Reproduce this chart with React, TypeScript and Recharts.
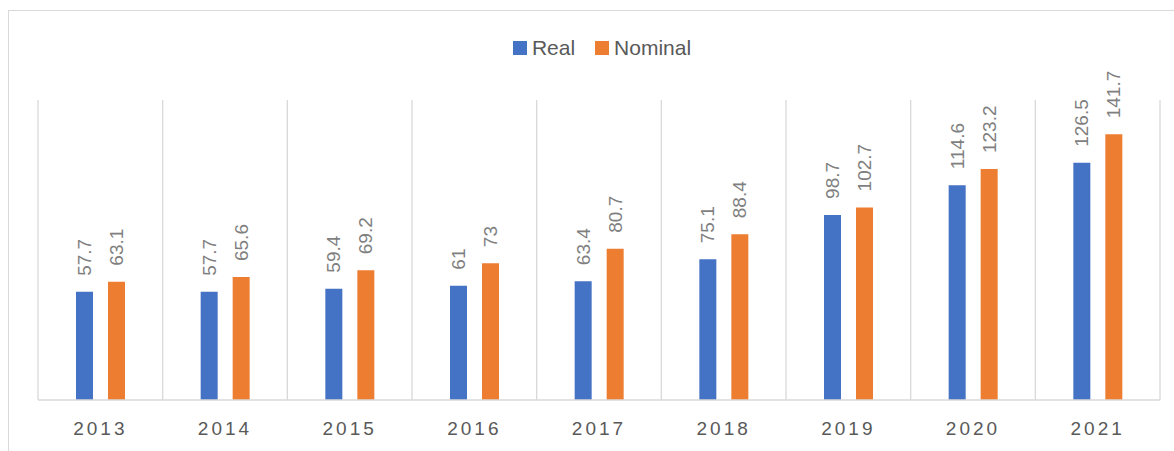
import React from "react";
import { Bar, BarChart, CartesianGrid, LabelList, XAxis, YAxis } from "recharts";

const years = ["2013", "2014", "2015", "2016", "2017", "2018", "2019", "2020", "2021"];
const real = [57.7, 57.7, 59.4, 61, 63.4, 75.1, 98.7, 114.6, 126.5];
const nominal = [63.1, 65.6, 69.2, 73, 80.7, 88.4, 102.7, 123.2, 141.7];
const seriesNames = ["Real", "Nominal"];

const BLUE = "#4472C4";
const ORANGE = "#ED7D31";
const FONT = "'Liberation Sans', Arial, sans-serif";

const data = years.map((year, i) => ({ year, real: real[i], nominal: nominal[i] }));

const ValueLabel = (props: any) => {
  const { x, y, width, value } = props;
  const cx = Number(x) + Number(width) / 2;
  const ty = Number(y) - 16;
  return (
    <text
      x={cx}
      y={ty}
      transform={`rotate(-90, ${cx}, ${ty})`}
      textAnchor="start"
      dominantBaseline="central"
      fill="#7f7f7f"
      fontSize={19}
      fontFamily={FONT}
    >
      {value}
    </text>
  );
};

// legend drawn as html so it doesn't push the plot area down
const LegendBox = () => (
  <div
    style={{
      position: "absolute",
      top: 25,
      left: 0,
      width: 1186,
      display: "flex",
      justifyContent: "center",
      alignItems: "center",
      gap: 20,
      fontFamily: FONT,
      fontSize: 21,
      color: "#595959"
    }}
  >
    {[
      { name: seriesNames[0], color: BLUE },
      { name: seriesNames[1], color: ORANGE }
    ].map((item) => (
      <span key={item.name} style={{ display: "flex", alignItems: "center", gap: 5 }}>
        <span style={{ width: 14, height: 14, backgroundColor: item.color, display: "inline-block" }} />
        {item.name}
      </span>
    ))}
  </div>
);

export default function App() {
  return (
    <div
      style={{
        position: "absolute",
        left: 8,
        top: 10,
        width: 1166,
        height: 441,
        border: "1px solid #d9d9d9",
        background: "#fff"
      }}
    >
      <BarChart
        width={1166}
        height={441}
        data={data}
        margin={{ top: 89, right: 15, left: 29, bottom: 12 }}
        barSize={17}
        barGap={15}
      >
        <CartesianGrid
          horizontal={false}
          stroke="#d9d9d9"
          strokeWidth={1.3}
          verticalCoordinatesGenerator={({ offset }: any) =>
            years.map((_, i) => offset.left + (i * offset.width) / years.length).concat(offset.left + offset.width)
          }
        />
        <XAxis
          dataKey="year"
          height={40}
          axisLine={{ stroke: "#d9d9d9", strokeWidth: 1.3 }}
          tickLine={false}
          tickMargin={16}
          tick={{ fill: "#595959", fontSize: 19, fontFamily: FONT, letterSpacing: 3 }}
        />
        <YAxis hide domain={[0, 160]} />
        <Bar dataKey="real" name="Real" fill={BLUE} isAnimationActive={false}>
          <LabelList dataKey="real" content={<ValueLabel />} />
        </Bar>
        <Bar dataKey="nominal" name="Nominal" fill={ORANGE} isAnimationActive={false}>
          <LabelList dataKey="nominal" content={<ValueLabel />} />
        </Bar>
      </BarChart>
      <LegendBox />
    </div>
  );
}
